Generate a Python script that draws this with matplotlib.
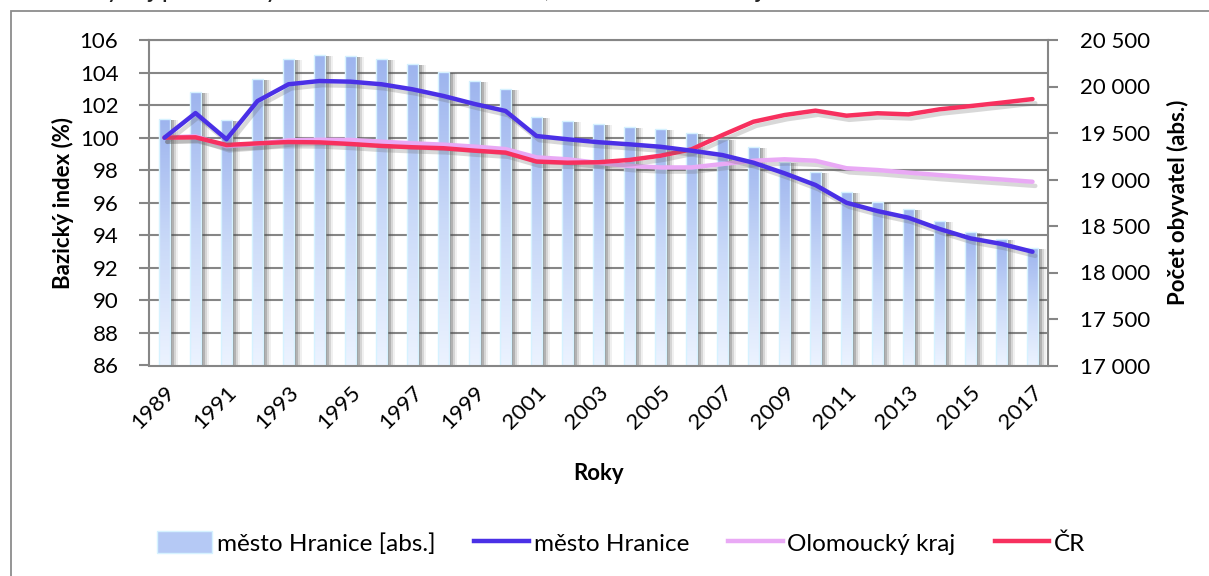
import numpy as np
import matplotlib
matplotlib.use("Agg")
import matplotlib.pyplot as plt
from matplotlib.patches import Patch, Rectangle
from matplotlib.lines import Line2D
from matplotlib.transforms import blended_transform_factory
from matplotlib.colors import LinearSegmentedColormap
import matplotlib.patheffects as pe

plt.rcParams['font.family'] = ['Lato', 'DejaVu Sans']

years = list(range(1989, 2018))
pop_hranice = [19651, 19944, 19640, 20078, 20296, 20336, 20328, 20293, 20242, 20156,
               20059, 19973, 19669, 19629, 19594, 19568, 19540, 19497, 19436, 19346,
               19188, 19081, 18862, 18761, 18686, 18554, 18436, 18360, 18263]
idx_hranice = [100.0, 101.51, 99.9, 102.25, 103.28, 103.48, 103.44, 103.28, 102.97, 102.56,
               102.07, 101.64, 100.1, 99.9, 99.72, 99.59, 99.44, 99.2, 98.93, 98.46,
               97.81, 97.09, 96.0, 95.49, 95.08, 94.39, 93.81, 93.47, 92.99]
idx_olomouc = [100.0, 100.08, 99.47, 99.62, 99.84, 99.87, 99.86, 99.75, 99.65, 99.57,
               99.45, 99.3, 98.79, 98.67, 98.45, 98.26, 98.17, 98.17, 98.38, 98.58,
               98.67, 98.58, 98.12, 98.01, 97.85, 97.7, 97.56, 97.43, 97.29]
idx_cr = [100.0, 100.02, 99.55, 99.65, 99.73, 99.71, 99.61, 99.49, 99.41, 99.35,
          99.2, 99.08, 98.53, 98.46, 98.49, 98.63, 98.89, 99.28, 100.16, 100.98,
          101.39, 101.66, 101.35, 101.5, 101.43, 101.74, 101.94, 102.15, 102.37]

left_ticks = list(range(86, 107, 2))
right_ticks = list(range(17000, 20501, 500))
right_labels = ["17 000", "17 500", "18 000", "18 500", "19 000", "19 500", "20 000", "20 500"]
xtick_labels = [str(y) for y in years[::2]]

W, H = 1209, 576
fig = plt.figure(figsize=(W / 100, H / 100), dpi=100)

# outer frame
fig.patches.append(Rectangle((11 / W, -0.1), 1.2, 1 - 11 / H + 0.1, transform=fig.transFigure,
                             fill=False, edgecolor='#8c8c8c', lw=1.3))
# title (cut off at the top edge, as in the reference)
fig.text(2 / W, 1 + 3.5 / H,
         "Graf 1: Vývoj počtu obyvatel ve městě Hranice, Olomouckém kraji a ČR v letech 1989–2017",
         fontsize=19, ha='left', va='baseline', color='#222222')

left, right, top, bottom = 149, 1048, 40, 365.5
axL = fig.add_axes([left / W, 1 - bottom / H, (right - left) / W, (bottom - top) / H])
axB = axL.twinx()
axB.set_zorder(1)
axL.set_zorder(2)
axL.patch.set_visible(False)
axB.patch.set_visible(False)

x = np.arange(len(years))
grid_c = '#868686'

# grid lines (on index scale) behind bars
gtrans = blended_transform_factory(axB.transAxes, axL.transData)
for t in left_ticks[1:]:
    axB.plot([0, 1], [t, t], transform=gtrans, color=grid_c, lw=1.5, zorder=0, solid_capstyle='butt')

bw = 0.35
# soft shadows of bars
for off, a in [(0.08, 0.30), (0.14, 0.25), (0.20, 0.16), (0.26, 0.08)]:
    axB.bar(x + off, np.array(pop_hranice) - 17000 - 10, bottom=17000, width=bw,
            color='#4a4a4a', alpha=a, lw=0, zorder=1)

bars = axB.bar(x, np.array(pop_hranice) - 17000, bottom=17000, width=bw,
               color='none', edgecolor='#d6f2ff', lw=1.0, zorder=3)
grad = np.linspace(1, 0, 256).reshape(-1, 1)
cmap = LinearSegmentedColormap.from_list('g', ['#ecf3ff', '#c9d9f8', '#9db4ee'])
for b in bars:
    x0, y0 = b.get_x(), b.get_y()
    im = axB.imshow(grad, extent=[x0, x0 + b.get_width(), y0, y0 + b.get_height()],
                    aspect='auto', cmap=cmap, zorder=2, interpolation='bilinear')
    im.set_clip_path(b)

shadow = [pe.SimpleLineShadow(offset=(2, -3), shadow_color='#666666', alpha=0.25), pe.Normal()]
axL.plot(x, idx_olomouc, color='#e9a9f5', lw=3.2, path_effects=shadow, solid_capstyle='round', zorder=3)
axL.plot(x, idx_cr, color='#f7305e', lw=3.2, path_effects=shadow, solid_capstyle='round', zorder=4)
axL.plot(x, idx_hranice, color='#4a30e6', lw=3.2, path_effects=shadow, solid_capstyle='round', zorder=5)

axL.set_xlim(-0.5, len(years) - 0.5)
axL.set_ylim(86, 106)
axB.set_ylim(17000, 20500)

axL.set_yticks(left_ticks)
axL.set_yticklabels([str(t) for t in left_ticks])
axB.set_yticks(right_ticks)
axB.set_yticklabels(right_labels)
axL.set_xticks(x[::2])
axL.set_xticklabels(xtick_labels, rotation=45, ha='right', va='top', rotation_mode='anchor')

for ax in (axL, axB):
    for s in ax.spines.values():
        s.set_color(grid_c)
        s.set_linewidth(1.5)
    ax.spines['top'].set_visible(False)
axB.spines['left'].set_visible(False)
axB.spines['bottom'].set_visible(False)
axL.spines['right'].set_visible(False)
axL.plot([0, 1], [1, 1], transform=axL.transAxes, color=grid_c, lw=1.5, clip_on=False, zorder=0)

axL.tick_params(axis='y', direction='out', length=7, width=1.5, color=grid_c, pad=15, labelsize=16, labelcolor='#000000')
axB.tick_params(axis='y', direction='out', length=7, width=1.5, color=grid_c, pad=16, labelsize=16, labelcolor='#000000')
axL.tick_params(axis='x', length=0, pad=12, labelsize=16, labelcolor='#000000')

axL.set_ylabel("Bazický index (%)", fontsize=16, fontweight='bold', labelpad=4)
axB.set_ylabel("Počet obyvatel (abs.)", fontsize=16, fontweight='bold', labelpad=12)
axL.set_xlabel("Roky", fontsize=16, fontweight='bold', labelpad=22)

handles = [Patch(facecolor='#b5c9f5', edgecolor='#d6f2ff', lw=1.0),
           Line2D([0], [0], color='#4a30e6', lw=3.2),
           Line2D([0], [0], color='#e9a9f5', lw=3.2),
           Line2D([0], [0], color='#f7305e', lw=3.2)]
labels = ["město Hranice [abs.]", "město Hranice", "Olomoucký kraj", "ČR"]
fig.legend(handles, labels, loc='center left', bbox_to_anchor=(157 / W, 1 - 543 / H), ncol=4,
           frameon=False, fontsize=17.5, handlelength=2.25, handleheight=1.0, handletextpad=0.2,
           columnspacing=1.6, borderaxespad=0, borderpad=0)

fig.savefig("out.png", dpi=100)
